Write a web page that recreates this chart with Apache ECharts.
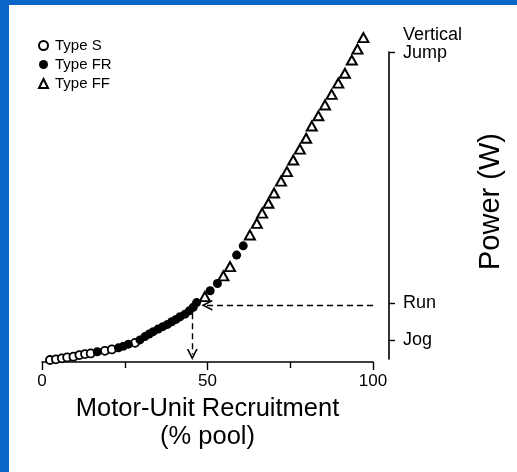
<!DOCTYPE html>
<html>
<head>
<meta charset="utf-8">
<script src="https://cdn.jsdelivr.net/npm/echarts@6/dist/echarts.min.js"></script>
<style>html,body{margin:0;padding:0;}#c{width:517px;height:472px;}</style>
</head>
<body>
<div id="c"></div>
<script>
// Motor-unit recruitment (% pool) vs power (arbitrary units, 0..100)
const typeS = [[2.4,0.6],[4.2,0.8],[6.0,1.1],[7.6,1.4],[9.5,1.6],[11.3,2.1],[13.0,2.4],[14.7,2.6],[19.0,3.4],[21.1,3.8],[28.1,5.8]];
const typeFR = [[16.7,3.1],[23.1,4.3],[24.6,4.8],[26.1,5.4],[29.6,6.7],[31.1,7.7],[32.4,8.5],[33.6,9.2],[35.1,10.0],[36.5,10.7],[37.9,11.4],[39.2,12.2],[40.5,12.9],[41.7,13.7],[43.2,14.5],[44.5,15.5],[45.7,16.6],[46.7,18.0],[50.8,21.6],[53.0,23.8],[58.8,32.4],[60.8,35.2]];
const typeFF = [[49.2,19.8],[54.8,26.1],[56.8,28.9],[62.8,38.5],[64.9,42.0],[66.5,45.1],[68.4,48.1],[70.1,51.2],[72.2,54.8],[74.0,57.7],[75.9,61.2],[77.9,64.5],[79.8,67.8],[81.5,71.5],[83.5,74.6],[85.5,77.9],[87.5,81.1],[89.5,84.5],[91.5,87.5],[93.6,91.5],[95.3,94.8],[97.1,98.3]];
const seriesNames = ['Type S','Type FR','Type FF'];
const xTickLabels = [0, 50, 100];
const activityLabels = ['Jog','Run','Vertical Jump'];
const activityPower = [6.7, 17.9, 93.9];
const powerAxisMin = 0.9;
// guide arrows
const runGuideY = 17.2, runGuideFromX = 100, runGuideToX = 49.8;
const recruitGuideX = 45.4, recruitGuideFromY = 14.8, recruitGuideToY = 2.3;

const chevron = 'path://M0,10 L5,0 L10,10 L8.4,10 L5,3.2 L1.6,10 Z';
const chart = echarts.init(document.getElementById('c'), null, {renderer:'canvas'});
const black = '#000';
const option = {
  animation: false,
  backgroundColor: '#0a66c6',
  textStyle: {fontFamily: 'Liberation Sans', color: black},
  graphic: [{type:'rect', silent:true, z:-10, shape:{x:9, y:5, width:508, height:467}, style:{fill:'#fff'}}],
  legend: {
    data: seriesNames, orient: 'vertical', left: 33, top: 33,
    itemWidth: 9, itemHeight: 9, itemGap: 4, selectedMode: false,
    textStyle: {fontSize: 15, color: black, lineHeight: 15, padding: [0,0,0,2]}
  },
  grid: [
    {left: 42, right: 144, top: 32, bottom: 110},
    {left: 389, width: 1, top: 52, bottom: 113}
  ],
  xAxis: [
    {gridIndex: 0, type: 'value', min: 0, max: 100, interval: 50,
     axisLine: {lineStyle: {color: black, width: 1.6}},
     axisTick: {length: 8, lineStyle: {color: black, width: 1.4}},
     minorTick: {show: true, splitNumber: 2, length: 6, lineStyle: {color: black, width: 1.4}},
     splitLine: {show: false},
     axisLabel: {fontSize: 17, color: black, margin: 11,
       formatter: v => xTickLabels.indexOf(v) >= 0 ? String(v) : ''},
     name: 'Motor-Unit Recruitment\n(% pool)', nameLocation: 'middle', nameGap: 31,
     nameTextStyle: {fontSize: 25.5, lineHeight: 28, color: black}},
    {gridIndex: 1, type: 'value', min: 0, max: 1, show: false}
  ],
  yAxis: [
    {gridIndex: 0, type: 'value', min: 0, max: 100, show: false, splitLine: {show: false}},
    {gridIndex: 1, type: 'value', position: 'right', min: powerAxisMin, max: activityPower[2],
     axisLine: {show: true, lineStyle: {color: black, width: 1.6}},
     axisTick: {show: true, inside: false, length: 6, customValues: activityPower, lineStyle: {color: black, width: 1.4}},
     splitLine: {show: false},
     axisLabel: {show: true, margin: 13, fontSize: 18, color: black, align: 'left',
       customValues: activityPower,
       formatter: function (v) {
         let i = activityPower.findIndex(p => Math.abs(p - v) < 1e-6);
         if (i < 0) return '';
         const t = activityLabels[i];
         if (t.indexOf(' ') > 0) {
           const parts = t.split(' ');
           return '{vj|' + parts[0] + '}\n{vj|' + parts[1] + '}\n{sp| }';
         }
         return t;
       },
       rich: {vj: {fontSize: 18, lineHeight: 18, color: black}, sp: {fontSize: 10, lineHeight: 16}}},
     name: 'Power (W)', nameLocation: 'middle', nameGap: 86, nameRotate: 90,
     nameTextStyle: {fontSize: 29, color: black, padding: [0, 0, 0, 8]}}
  ],
  series: [
    {name: 'Type S', type: 'scatter', xAxisIndex: 0, yAxisIndex: 0, data: typeS, symbol: 'circle', symbolSize: 8,
     itemStyle: {color: '#fff', borderColor: black, borderWidth: 1.8, opacity: 1}, z: 3},
    {name: 'Type FR', type: 'scatter', xAxisIndex: 0, yAxisIndex: 0, data: typeFR, symbol: 'circle', symbolSize: 9,
     itemStyle: {color: black, opacity: 1}, z: 4},
    {name: 'Type FF', type: 'scatter', xAxisIndex: 0, yAxisIndex: 0, data: typeFF, symbol: 'triangle', symbolSize: [10, 9],
     itemStyle: {color: '#fff', borderColor: black, borderWidth: 2, opacity: 1}, z: 3},
    {name: 'guides', type: 'scatter', xAxisIndex: 0, yAxisIndex: 0, data: [],
     markLine: {silent: true, symbol: ['none', chevron], symbolSize: [11, 11],
       label: {show: false},
       lineStyle: {type: [6, 4], color: black, width: 1.4},
       data: [
         [{coord: [runGuideFromX, runGuideY]}, {coord: [runGuideToX, runGuideY]}],
         [{coord: [recruitGuideX, recruitGuideFromY]}, {coord: [recruitGuideX, recruitGuideToY]}]
       ]}}
  ]
};
chart.setOption(option);
</script>
</body>
</html>
